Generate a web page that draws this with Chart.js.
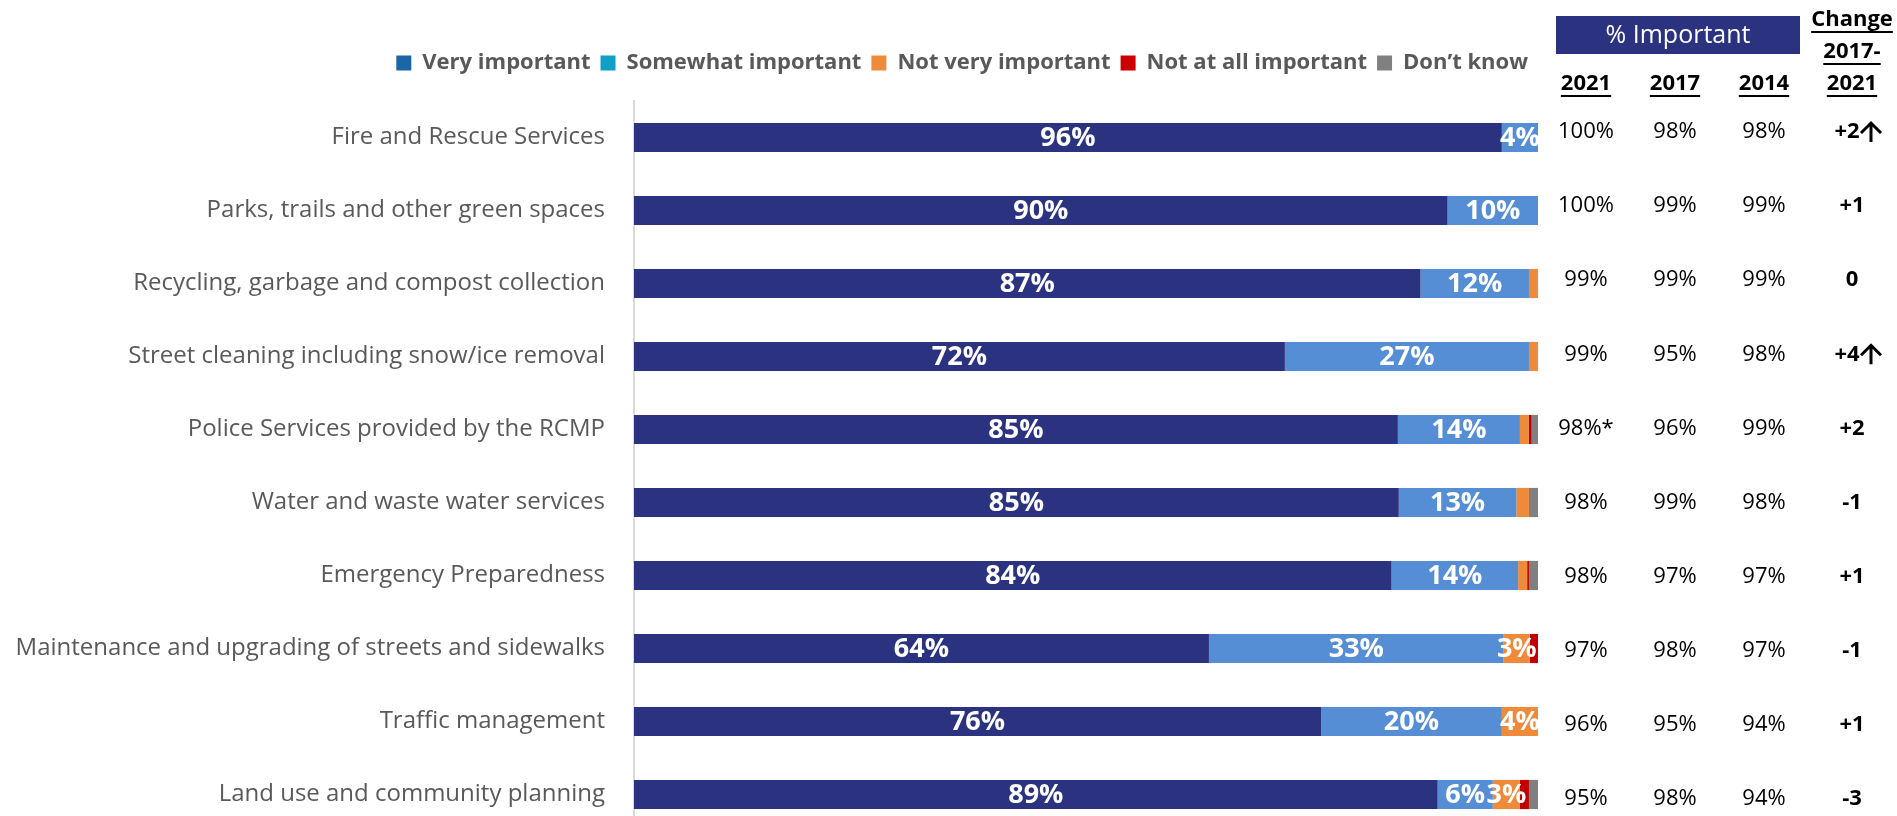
<!DOCTYPE html>
<html>
<head>
<meta charset="utf-8">
<script src="https://cdn.jsdelivr.net/npm/chart.js@4.4.1/dist/chart.umd.min.js"></script>
<style>
  html, body { margin: 0; padding: 0; background: #fff; overflow: hidden; }
</style>
</head>
<body>
<canvas id="myChart" width="1897" height="831"></canvas>
<script>
// categories and stacked shares (%)
var categories = [
  'Fire and Rescue Services',
  'Parks, trails and other green spaces',
  'Recycling, garbage and compost collection',
  'Street cleaning including snow/ice removal',
  'Police Services provided by the RCMP',
  'Water and waste water services',
  'Emergency Preparedness',
  'Maintenance and upgrading of streets and sidewalks',
  'Traffic management',
  'Land use and community planning'
];
var veryImportant     = [96, 90, 87, 72, 84.5, 84.6, 83.8, 63.6, 76, 88.9];
var somewhatImportant = [4, 10, 12, 27, 13.5, 13.0, 14.0, 32.6, 20, 6.1];
var notVeryImportant  = [0, 0, 1, 1, 1.0, 1.4, 1.0, 2.9, 4, 3.0];
var notAtAllImportant = [0, 0, 0, 0, 0.3, 0, 0.2, 0.9, 0, 1.0];
var dontKnow          = [0, 0, 0, 0, 0.7, 1.0, 1.0, 0, 0, 1.0];

// % important table on the right
var imp2021 = [100, 100, 99, 99, 98, 98, 98, 97, 96, 95];
var note2021 = ['', '', '', '', '*', '', '', '', '', ''];
var imp2017 = [98, 99, 99, 95, 96, 99, 97, 98, 95, 98];
var imp2014 = [98, 99, 99, 98, 99, 98, 97, 97, 94, 94];
var change1721 = [2, 1, 0, 4, 2, -1, 1, -1, 1, -3];
var sigUp = [true, false, false, true, false, false, false, false, false, false];
var yearHeaders = ['2021', '2017', '2014'];

var barColors = ['#2B3380', '#558ED5', '#ED8B3A', '#C00000', '#808080'];
var legendColors = ['#1B67A6', '#0FA0C8', '#ED8B3A', '#CC0000', '#808080'];
var NAVY = '#2B3380';
var FONT = "'Open Sans', sans-serif";

var valueLabels = {
  id: 'valueLabels',
  afterDatasetsDraw: function (chart) {
    var ctx = chart.ctx;
    ctx.save();
    ctx.font = 'bold 27px ' + FONT;
    ctx.fillStyle = '#fff';
    ctx.textAlign = 'center';
    ctx.textBaseline = 'middle';
    chart.data.datasets.forEach(function (ds, di) {
      chart.getDatasetMeta(di).data.forEach(function (bar, i) {
        var v = ds.data[i];
        if (v < 2.5) return;
        var p = bar.getProps(['x', 'y', 'base'], true);
        ctx.fillText(Math.round(v) + '%', (p.x + p.base) / 2, p.y + 1);
      });
    });
    ctx.restore();
  }
};

// extra room under the legend
var legendGap = {
  id: 'legendGap',
  beforeInit: function (chart) {
    var fit = chart.legend.fit;
    chart.legend.fit = function () {
      fit.bind(chart.legend)();
      this.height += 17;
    };
  }
};

var sideTable = {
  id: 'sideTable',
  afterDraw: function (chart) {
    var ctx = chart.ctx;
    var cols = [1586, 1675, 1764, 1852];
    ctx.save();
    // header box
    ctx.fillStyle = NAVY;
    ctx.fillRect(1556, 16, 244, 38);
    ctx.fillStyle = '#fff';
    ctx.textAlign = 'center';
    ctx.textBaseline = 'middle';
    ctx.font = '25px ' + FONT;
    ctx.fillText('% Important', 1678, 36);

    function underlined(txt, x, y) {
      ctx.fillText(txt, x, y);
      var w = ctx.measureText(txt).width;
      ctx.fillRect(x - w / 2, y + 11, w, 2);
    }
    ctx.fillStyle = '#000';
    ctx.font = 'bold 22px ' + FONT;
    yearHeaders.forEach(function (t, k) { underlined(t, cols[k], 84); });
    underlined('Change', cols[3], 20);
    underlined('2017-', cols[3], 52);
    underlined('2021', cols[3], 84);

    var y = chart.scales.y;
    categories.forEach(function (c, i) {
      var ry = y.getPixelForValue(i) - 5.5 + 1.1 * i;
      ctx.fillStyle = '#000';
      ctx.font = '22px ' + FONT;
      ctx.fillText(imp2021[i] + '%' + note2021[i], cols[0], ry);
      ctx.fillText(imp2017[i] + '%', cols[1], ry);
      ctx.fillText(imp2014[i] + '%', cols[2], ry);
      ctx.font = 'bold 22px ' + FONT;
      var ch = change1721[i] > 0 ? '+' + change1721[i] : String(change1721[i]);
      if (sigUp[i]) {
        ctx.fillText(ch, cols[3] - 5, ry);
        // up arrow
        var ax = cols[3] + 19;
        ctx.strokeStyle = '#000';
        ctx.lineWidth = 3;
        ctx.beginPath();
        ctx.moveTo(ax, ry + 10);
        ctx.lineTo(ax, ry - 8);
        ctx.moveTo(ax - 10, ry + 1);
        ctx.lineTo(ax, ry - 9);
        ctx.lineTo(ax + 10, ry + 1);
        ctx.stroke();
      } else {
        ctx.fillText(ch, cols[3], ry);
      }
    });
    ctx.restore();
  }
};

var ctx = document.getElementById('myChart').getContext('2d');
var seriesNames = ['Very important', 'Somewhat important', 'Not very important', 'Not at all important', 'Don\u2019t know'];
var seriesData = [veryImportant, somewhatImportant, notVeryImportant, notAtAllImportant, dontKnow];

var chart = new Chart(ctx, {
  type: 'bar',
  data: {
    labels: categories,
    datasets: seriesNames.map(function (name, k) {
      return {
        label: name,
        data: seriesData[k],
        backgroundColor: barColors[k],
        borderWidth: 0,
        barPercentage: 0.4,
        categoryPercentage: 1
      };
    })
  },
  options: {
    indexAxis: 'y',
    responsive: false,
    animation: false,
    layout: { padding: { top: 42, right: 359, left: 0, bottom: 0 } },
    scales: {
      x: { stacked: true, min: 0, max: 100, display: false },
      y: {
        stacked: true,
        grid: { display: false },
        border: { display: true, color: '#D9D9D9', width: 2 },
        ticks: { color: '#595959', padding: 21, font: { family: FONT, size: 24 } },
        afterFit: function (s) {
          s.width = 634;
          s.paddingTop = 0;
          s.paddingBottom = 0;
        }
      }
    },
    plugins: {
      tooltip: { enabled: false },
      legend: {
        position: 'top',
        align: 'end',
        labels: {
          boxWidth: 15,
          boxHeight: 15,
          padding: 10,
          color: '#595959',
          font: { family: FONT, size: 22, weight: 'bold' },
          generateLabels: function (chart) {
            return chart.data.datasets.map(function (ds, i) {
              return {
                text: ds.label,
                fillStyle: legendColors[i],
                strokeStyle: legendColors[i],
                lineWidth: 0,
                hidden: false,
                datasetIndex: i,
                fontColor: '#595959'
              };
            });
          }
        }
      }
    }
  },
  plugins: [legendGap, valueLabels, sideTable]
});
</script>
</body>
</html>
